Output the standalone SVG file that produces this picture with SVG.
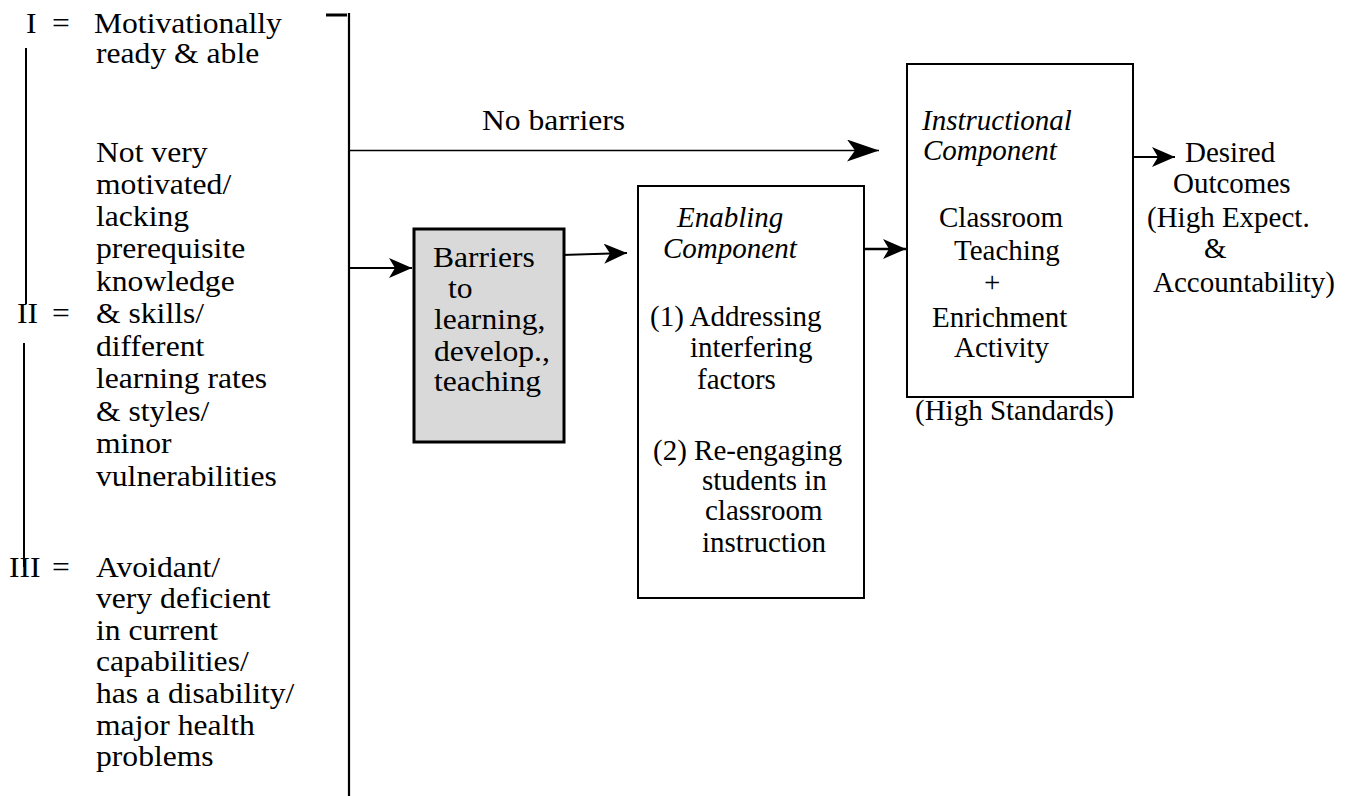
<svg xmlns="http://www.w3.org/2000/svg" width="1354" height="796" viewBox="0 0 1354 796">
<style>
text{font-family:"Liberation Serif","Times New Roman",serif;fill:#000}
.l{font-size:29px}
.r{font-size:29px}
.it{font-style:italic}
.ln{stroke:#000;fill:none}
.box{fill:#fff;stroke:#000;stroke-width:2}
</style>
<defs>
<marker id="big" markerUnits="userSpaceOnUse" viewBox="0 0 32 22" refX="32" refY="11" markerWidth="32" markerHeight="22" orient="auto">
<path d="M0,0 L32,11 L0,22 L8,11 Z" fill="#000"/>
</marker>
<marker id="sm" markerUnits="userSpaceOnUse" viewBox="0 0 23 20" refX="23" refY="10" markerWidth="23" markerHeight="20" orient="auto">
<path d="M0,0 L23,10 L0,20 L6,10 Z" fill="#000"/>
</marker>
</defs>

<g id="bracket">
<line class="ln" x1="326" y1="15" x2="347" y2="15" stroke-width="3"/>
<line class="ln" x1="349" y1="13" x2="349" y2="796" stroke-width="2.2"/>
<line class="ln" x1="26" y1="48" x2="26" y2="304" stroke-width="2"/>
<line class="ln" x1="24" y1="343" x2="24" y2="567" stroke-width="2"/>
</g>

<g id="levels" transform="scale(1.09 1)">
<text class="l" x="23.9" y="33">I</text>
<text class="l" x="47.7" y="33">=</text>
<text class="l" x="86.2" y="33">Motivationally</text>
<text class="l" x="88.1" y="63">ready &amp; able</text>
<text class="l" x="88.1" y="162">Not very</text>
<text class="l" x="88.1" y="194">motivated/</text>
<text class="l" x="88.1" y="226">lacking</text>
<text class="l" x="88.1" y="258.5">prerequisite</text>
<text class="l" x="88.1" y="291">knowledge</text>
<text class="l" x="15.6" y="323.5">II</text>
<text class="l" x="47.7" y="323.5">=</text>
<text class="l" x="88.1" y="323.5">&amp; skills/</text>
<text class="l" x="88.1" y="356">different</text>
<text class="l" x="88.1" y="388.5">learning rates</text>
<text class="l" x="88.1" y="421">&amp; styles/</text>
<text class="l" x="88.1" y="453.5">minor</text>
<text class="l" x="88.1" y="486">vulnerabilities</text>
<text class="l" x="8.3" y="577">III</text>
<text class="l" x="47.7" y="577">=</text>
<text class="l" x="88.1" y="577">Avoidant/</text>
<text class="l" x="88.1" y="608.5">very deficient</text>
<text class="l" x="88.1" y="640">in current</text>
<text class="l" x="88.1" y="671.5">capabilities/</text>
<text class="l" x="88.1" y="703">has a disability/</text>
<text class="l" x="88.1" y="735">major health</text>
<text class="l" x="88.1" y="766.5">problems</text>
</g>

<g id="connectors">
<line class="ln" x1="349" y1="150.5" x2="879" y2="150.5" stroke-width="1.6" marker-end="url(#big)"/>
<text class="l" x="442.2" y="130" transform="scale(1.09 1)">No barriers</text>
<line class="ln" x1="349" y1="268" x2="412" y2="268" stroke-width="1.8" marker-end="url(#sm)"/>
<line class="ln" x1="562" y1="255" x2="627" y2="253" stroke-width="1.8" marker-end="url(#sm)"/>
<line class="ln" x1="859" y1="249" x2="906" y2="249" stroke-width="2.6" marker-end="url(#sm)"/>
<line class="ln" x1="1125" y1="157" x2="1175" y2="157" stroke-width="1.8" marker-end="url(#sm)"/>
</g>

<g id="barriers">
<rect x="414" y="229" width="150" height="213" fill="#d9d9d9" stroke="#000" stroke-width="3"/>
<g transform="scale(1.09 1)">
<text class="l" x="397.2" y="267">Barriers</text>
<text class="l" x="411" y="298">to</text>
<text class="l" x="398.2" y="329">learning,</text>
<text class="l" x="398.2" y="361">develop.,</text>
<text class="l" x="398.2" y="391">teaching</text>
</g>
</g>

<g id="enabling">
<rect class="box" x="638" y="186" width="226" height="412"/>
<text class="r it" x="677" y="227">Enabling</text>
<text class="r it" x="663" y="258">Component</text>
<text class="r" x="650" y="326">(1) Addressing</text>
<text class="r" x="690" y="357">interfering</text>
<text class="r" x="697" y="389">factors</text>
<text class="r" x="653" y="460">(2) Re-engaging</text>
<text class="r" x="702" y="490">students in</text>
<text class="r" x="705" y="520">classroom</text>
<text class="r" x="702" y="552">instruction</text>
</g>

<g id="instructional">
<rect class="box" x="907" y="64" width="226" height="333"/>
<text class="r it" x="922" y="130">Instructional</text>
<text class="r it" x="923" y="160">Component</text>
<text class="r" x="939" y="227">Classroom</text>
<text class="r" x="954" y="260">Teaching</text>
<text class="r" x="984" y="292">+</text>
<text class="r" x="932" y="327">Enrichment</text>
<text class="r" x="954" y="357">Activity</text>
<text class="r" x="915" y="420">(High Standards)</text>
</g>

<g id="outcomes">
<text class="r" x="1185" y="162">Desired</text>
<text class="r" x="1173" y="193">Outcomes</text>
<text class="r" x="1147" y="227">(High Expect.</text>
<text class="r" x="1204" y="258">&amp;</text>
<text class="r" x="1153" y="292">Accountability)</text>
</g>
</svg>
